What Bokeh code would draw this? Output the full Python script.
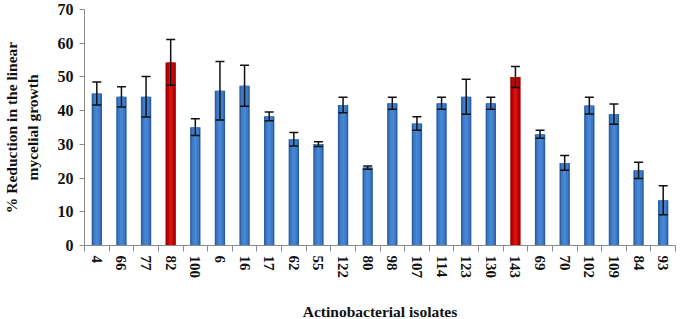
from bokeh.plotting import figure
from bokeh.models import ColumnDataSource, Range1d, FixedTicker, Whisker, TeeHead
from bokeh.embed import file_html
from bokeh.resources import INLINE

isolates = ["4", "66", "77", "82", "100", "6", "16", "17", "62", "55", "122", "80",
            "98", "107", "114", "123", "130", "143", "69", "70", "102", "109", "84", "93"]
reduction = [45.1, 44.1, 44.1, 54.3, 35.1, 45.9, 47.4, 38.3, 31.5, 30.1, 41.7, 23.1,
             42.2, 36.2, 42.2, 44.1, 42.2, 50.0, 33.0, 24.5, 41.5, 39.0, 22.3, 13.4]
error = [3.4, 3.0, 6.0, 6.8, 2.5, 8.7, 6.1, 1.3, 2.0, 0.7, 2.3, 0.5,
         1.8, 2.0, 1.8, 5.2, 1.8, 3.1, 1.2, 2.2, 2.5, 3.0, 2.4, 4.3]
highlighted = ["82", "143"]
y_ticks = [0, 10, 20, 30, 40, 50, 60, 70]

x = [i + 0.5 for i in range(len(isolates))]
dark = ["#9E0000" if s in highlighted else "#2C5E9E" for s in isolates]
mid = ["#C00000" if s in highlighted else "#3C79C6" for s in isolates]
light = ["#D41414" if s in highlighted else "#4786D4" for s in isolates]
src = ColumnDataSource(dict(
    x=x, top=reduction,
    upper=[v + e for v, e in zip(reduction, error)],
    lower=[v - e for v, e in zip(reduction, error)],
    dark=dark, mid=mid, light=light,
))

p = figure(width=677, height=323, output_backend="svg", toolbar_location=None,
           x_range=Range1d(0, len(isolates)), y_range=Range1d(0, 70),
           min_border_left=83, min_border_right=2, min_border_top=9, min_border_bottom=60)
p.outline_line_color = None
p.xgrid.grid_line_color = None
p.ygrid.grid_line_color = None
p.background_fill_color = "white"

p.vbar(x="x", top="top", width=0.42, bottom=0, source=src, fill_color="dark", line_color=None)
p.vbar(x="x", top="top", width=0.30, bottom=0, source=src, fill_color="mid", line_color=None)
p.vbar(x="x", top="top", width=0.14, bottom=0, source=src, fill_color="light", line_color=None)

w = Whisker(source=src, base="x", upper="upper", lower="lower", line_color="#111111",
            line_width=1.5, level="overlay",
            upper_head=TeeHead(size=9, line_color="#111111", line_width=1.5),
            lower_head=TeeHead(size=9, line_color="#111111", line_width=1.5))
p.add_layout(w)

font = "'Liberation Serif', 'Times New Roman', serif"
axis_col = "#8A8A8A"

xa = p.xaxis[0]
xa.ticker = FixedTicker(ticks=x, minor_ticks=list(range(len(isolates) + 1)))
xa.major_label_overrides = {v: s for v, s in zip(x, isolates)}
xa.major_label_orientation = "vertical"
xa.major_tick_line_color = None
xa.major_tick_out = 6
xa.minor_tick_line_color = axis_col
xa.minor_tick_out = 6
xa.minor_tick_in = 0
xa.axis_line_color = axis_col
xa.major_label_text_font = font
xa.major_label_text_font_style = "bold"
xa.major_label_text_font_size = "15px"
xa.major_label_text_color = "#111111"
xa.major_label_standoff = 4
xa.axis_label = "Actinobacterial isolates"
xa.axis_label_text_font = font
xa.axis_label_text_font_style = "bold"
xa.axis_label_text_font_size = "15.5px"
xa.axis_label_text_color = "#111111"
xa.axis_label_standoff = 22

ya = p.yaxis[0]
ya.ticker = FixedTicker(ticks=y_ticks)
ya.minor_tick_line_color = None
ya.major_tick_line_color = axis_col
ya.major_tick_out = 5
ya.major_tick_in = 0
ya.axis_line_color = axis_col
ya.major_label_text_font = font
ya.major_label_text_font_style = "bold"
ya.major_label_text_font_size = "16px"
ya.major_label_text_color = "#111111"
ya.major_label_standoff = 6
ya.axis_label = "% Reduction in the linear\nmycelial growth"
ya.axis_label_text_font = font
ya.axis_label_text_font_style = "bold"
ya.axis_label_text_font_size = "15.5px"
ya.axis_label_text_color = "#111111"
ya.axis_label_standoff = 14

open("out.html", "w").write(file_html(p, INLINE))
